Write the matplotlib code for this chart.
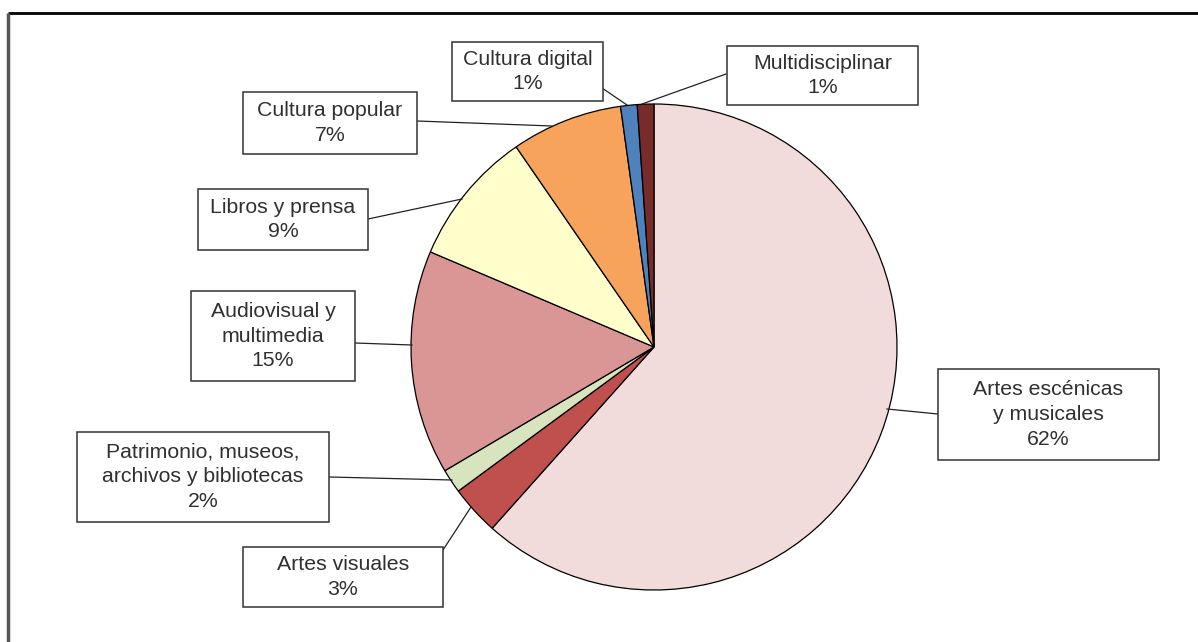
import matplotlib
matplotlib.use("Agg")
import matplotlib.pyplot as plt
from matplotlib.patches import Rectangle

# ---- data ----
categories = ["Artes escénicas\ny musicales", "Artes visuales",
              "Patrimonio, museos,\narchivos y bibliotecas",
              "Audiovisual y\nmultimedia", "Libros y prensa",
              "Cultura popular", "Cultura digital", "Multidisciplinar"]
values = [61.6, 3.3, 1.6, 14.9, 9.0, 7.4, 1.1, 1.1]
colors = ["#F2DCDB", "#C0504D", "#D7E4BD", "#D99694",
          "#FFFFCC", "#F7A35C", "#4F81BD", "#772C2A"]

# ---- layout (pixel coordinates, origin top-left) ----
W, H = 1198, 642
center = (654, 347)
radius = 243
boxes = [(938, 369, 1159, 460), (243, 547, 443, 607), (77, 432, 329, 522),
         (191, 291, 355, 381), (198, 189, 368, 250), (243, 92, 417, 154),
         (452, 42, 603, 101), (727, 46, 918, 105)]
leaders = [((938, 414), (887, 409)), ((443, 550), (471, 507)),
           ((329, 477), (452, 480)), ((355, 343), (412, 345)),
           ((368, 219), (462, 199)), ((417, 121), (552, 126)),
           ((602, 88), (627, 105)), ((726, 74), (642, 104))]

fig = plt.figure(figsize=(W / 100, H / 100), dpi=100)
ax = fig.add_axes([0, 0, 1, 1])

def Y(y):
    return H - y

ax.pie(values, colors=colors, startangle=90, counterclock=False,
       center=(center[0], Y(center[1])), radius=radius,
       wedgeprops=dict(edgecolor="black", linewidth=0.9), frame=True)
ax.set_xlim(0, W)
ax.set_ylim(0, H)
ax.set_aspect("equal")
ax.axis("off")

total = sum(values)
for cat, v, b, ld in zip(categories, values, boxes, leaders):
    (bx, by), (px, py) = ld
    ax.plot([bx, px], [Y(by), Y(py)], color="#222222", lw=0.9, zorder=3)
    x0, y0, x1, y1 = b
    ax.add_patch(Rectangle((x0, Y(y1)), x1 - x0, y1 - y0, facecolor="white",
                           edgecolor="#333333", lw=1.1, zorder=4))
    label = f"{cat}\n{round(v / total * 100):d}%"
    ax.text((x0 + x1) / 2, Y((y0 + y1) / 2), label, ha="center", va="center",
            multialignment="center", fontsize=15.3, color="#303030",
            family=["Liberation Sans", "DejaVu Sans"],
            linespacing=1.38, zorder=5)

# frame lines (top and left)
ax.plot([8, W], [Y(13), Y(13)], color="black", lw=2, solid_capstyle="butt")
ax.plot([8, 8], [Y(13), 0], color="#555555", lw=2.5, solid_capstyle="butt")

fig.savefig("out.png", dpi=100)
